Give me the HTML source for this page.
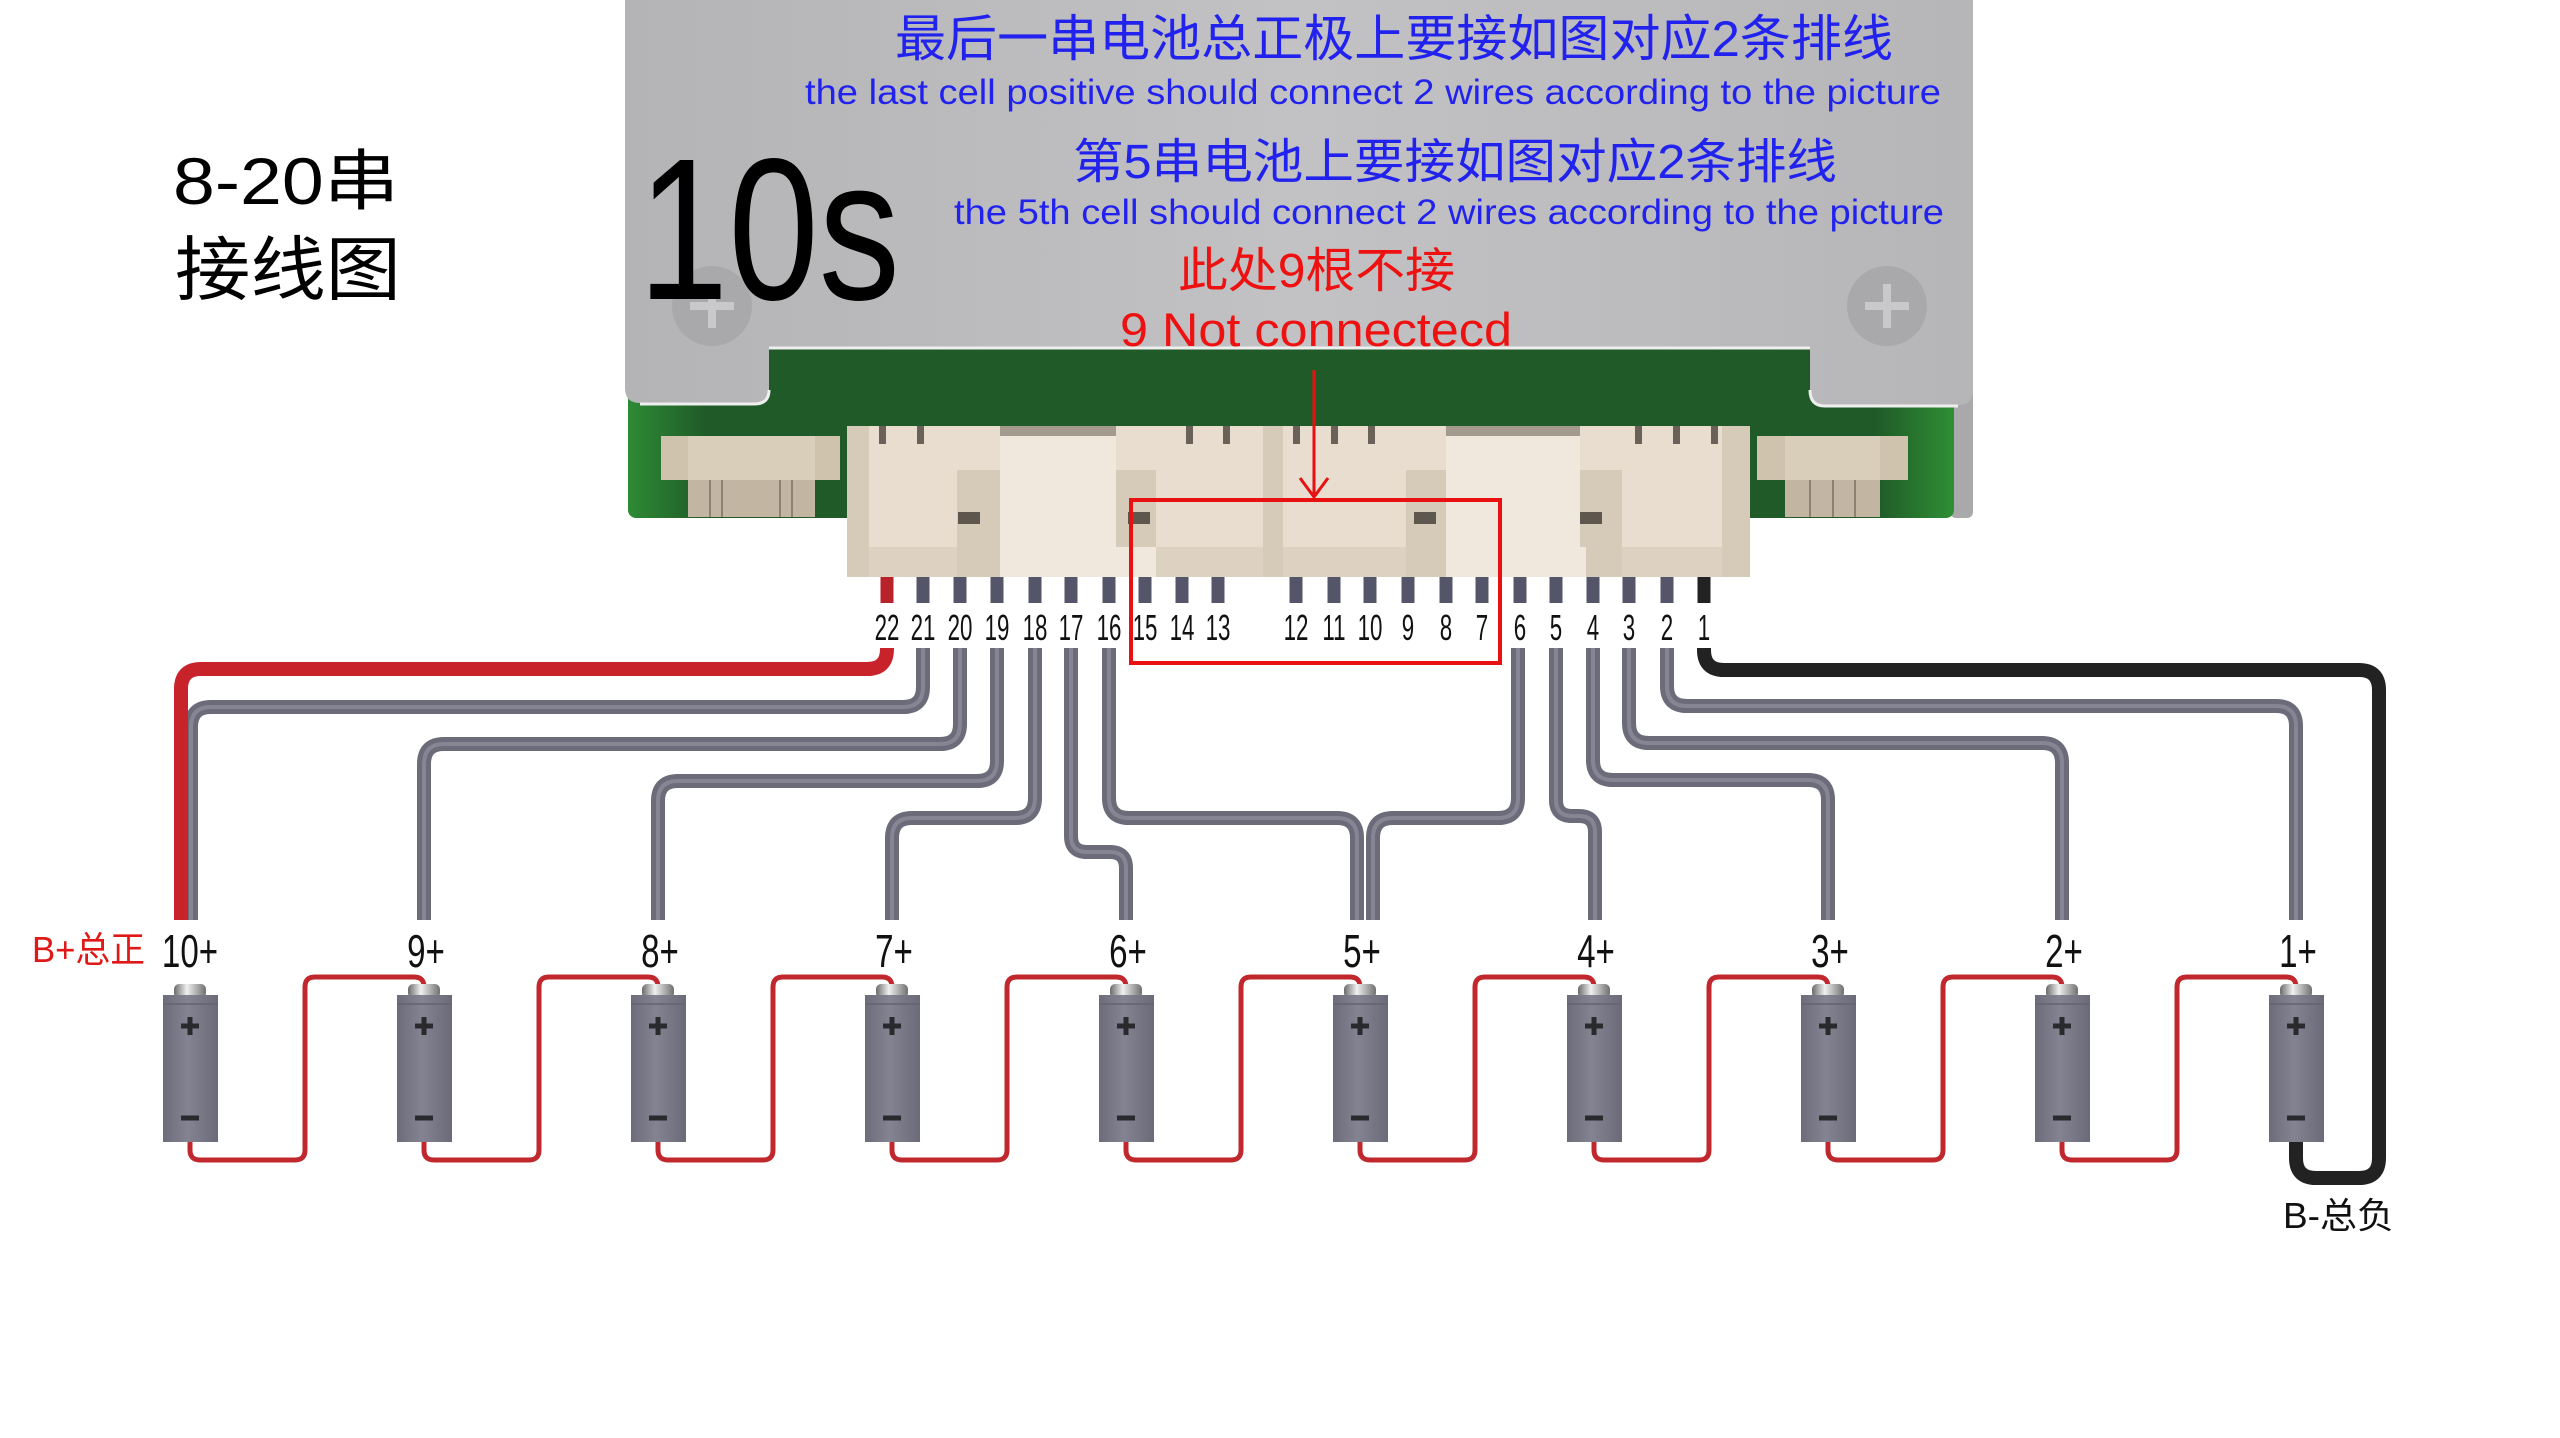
<!DOCTYPE html>
<html><head><meta charset="utf-8">
<style>
html,body{margin:0;padding:0;background:#fff;}
svg{display:block;}
</style></head>
<body>
<svg width="2560" height="1438" viewBox="0 0 2560 1438" xmlns="http://www.w3.org/2000/svg">
<defs>
<linearGradient id="plate" x1="0" y1="0" x2="1" y2="0">
<stop offset="0" stop-color="#b4b4b6"/><stop offset="0.5" stop-color="#c2c2c4"/><stop offset="1" stop-color="#b6b6b8"/>
</linearGradient>
<linearGradient id="pcb" x1="0" y1="0" x2="1" y2="0">
<stop offset="0" stop-color="#2e8a34"/><stop offset="0.06" stop-color="#1f5a28"/><stop offset="0.94" stop-color="#1f5a28"/><stop offset="1" stop-color="#2f8e34"/>
</linearGradient>
<linearGradient id="bat" x1="0" y1="0" x2="1" y2="0">
<stop offset="0" stop-color="#6c6c7a"/><stop offset="0.45" stop-color="#838392"/><stop offset="1" stop-color="#6a6a78"/>
</linearGradient>
<linearGradient id="cap" x1="0" y1="0" x2="1" y2="0">
<stop offset="0" stop-color="#6a6a6a"/><stop offset="0.4" stop-color="#f0f0f0"/><stop offset="1" stop-color="#707070"/>
</linearGradient>
<g id="b">
<rect x="-16" y="984" width="32" height="14" rx="5" fill="url(#cap)"/>
<rect x="-27" y="995" width="55" height="147" fill="url(#bat)"/>
<path d="M-27 1004 H28" stroke="#64646f" stroke-width="1.5"/>
<path d="M-9 1026 H9 M0 1017 V1035" stroke="#2a2a2e" stroke-width="5"/>
<path d="M-9 1118 H9" stroke="#2a2a2e" stroke-width="5"/>
</g>
</defs>

<!-- PCB & plate -->
<rect x="1950" y="0" width="23" height="518" rx="6" fill="#a9a9ab"/>
<rect x="628" y="330" width="1326" height="188" rx="8" fill="url(#pcb)"/>
<path d="M625 0 H1973 V390 Q1973 405 1958 405 H1825 Q1810 405 1810 390 V348 H769 V390 Q769 403 754 403 H640 Q625 403 625 388 Z" fill="url(#plate)"/>
<path d="M769 348 H1810" stroke="#eeeeee" stroke-width="3"/>
<path d="M640 404 H754 Q769 404 769 390" stroke="#eeeeee" stroke-width="3" fill="none"/>
<path d="M1810 390 Q1810 406 1825 406 H1958" stroke="#eeeeee" stroke-width="3" fill="none"/>
<!-- screws -->
<circle cx="712" cy="306" r="40" fill="#a9a9ab"/>
<path d="M712 284 V328 M690 306 H734" stroke="#c9c9cb" stroke-width="8"/>
<circle cx="1887" cy="306" r="40" fill="#a9a9ab"/>
<path d="M1887 284 V328 M1865 306 H1909" stroke="#c9c9cb" stroke-width="8"/>

<!-- small connectors -->
<g fill="#d9ceba">
<rect x="661" y="436" width="179" height="44" fill="#cfc3ae"/>
<rect x="688" y="436" width="127" height="44"/>
<rect x="688" y="480" width="127" height="37" fill="#c2b6a2"/>
<rect x="1757" y="436" width="151" height="44" fill="#cfc3ae"/>
<rect x="1785" y="436" width="95" height="44"/>
<rect x="1785" y="480" width="95" height="37" fill="#c2b6a2"/>
</g>
<g stroke="#8c8272" stroke-width="2">
<path d="M710 480 V517 M722 480 V517 M780 480 V517 M792 480 V517 M1810 480 V517 M1833 480 V517 M1855 480 V517"/>
</g>

<!-- main connector -->
<rect x="847" y="426" width="903" height="151" fill="#e8ddcf"/>
<rect x="847" y="547" width="903" height="30" fill="#ddd1c1"/>
<g fill="#d6cab9">
<rect x="957" y="470" width="43" height="107"/>
<rect x="1116" y="470" width="40" height="107"/>
<rect x="1263" y="426" width="20" height="151"/>
<rect x="1406" y="470" width="40" height="107"/>
<rect x="1580" y="470" width="42" height="107"/>
<rect x="1722" y="426" width="28" height="151"/>
<rect x="847" y="426" width="22" height="151"/>
</g>
<g fill="#f0e8dc">
<rect x="1000" y="436" width="116" height="111"/>
<rect x="1446" y="436" width="134" height="111"/>
<rect x="1000" y="547" width="156" height="30"/>
<rect x="1446" y="547" width="140" height="30"/>
</g>
<g fill="#5e574d">
<rect x="958" y="512" width="22" height="12"/>
<rect x="1128" y="512" width="22" height="12"/>
<rect x="1414" y="512" width="22" height="12"/>
<rect x="1580" y="512" width="22" height="12"/>
</g>
<g fill="#6a6258">
<rect x="879" y="426" width="7" height="18"/><rect x="917" y="426" width="7" height="18"/>
<rect x="1186" y="426" width="7" height="18"/><rect x="1223" y="426" width="7" height="18"/>
<rect x="1293" y="426" width="7" height="18"/><rect x="1331" y="426" width="7" height="18"/>
<rect x="1368" y="426" width="7" height="18"/>
<rect x="1635" y="426" width="7" height="18"/><rect x="1673" y="426" width="7" height="18"/><rect x="1711" y="426" width="7" height="18"/>
</g>
<g fill="#877d70" opacity="0.7">
<rect x="1000" y="426" width="116" height="10"/><rect x="1446" y="426" width="134" height="10"/>
</g>

<!-- pin stubs -->
<g stroke="#55556a" stroke-width="13">
<path d="M923 577 V603 M960 577 V603 M997 577 V603 M1035 577 V603 M1071 577 V603 M1109 577 V603 M1145 577 V603 M1182 577 V603 M1218 577 V603 M1296 577 V603 M1334 577 V603 M1370 577 V603 M1408 577 V603 M1446 577 V603 M1482 577 V603 M1520 577 V603 M1556 577 V603 M1593 577 V603 M1629 577 V603 M1667 577 V603"/>
</g>
<path d="M887 577 V603" stroke="#b8222a" stroke-width="13"/>
<path d="M1704 577 V603" stroke="#222" stroke-width="13"/>

<!-- pin labels -->
<g font-family="Liberation Sans, sans-serif" font-size="36" fill="#111" text-anchor="middle">
<text transform="translate(887 640) scale(0.62 1)">22</text>
<text transform="translate(923 640) scale(0.62 1)">21</text>
<text transform="translate(960 640) scale(0.62 1)">20</text>
<text transform="translate(997 640) scale(0.62 1)">19</text>
<text transform="translate(1035 640) scale(0.62 1)">18</text>
<text transform="translate(1071 640) scale(0.62 1)">17</text>
<text transform="translate(1109 640) scale(0.62 1)">16</text>
<text transform="translate(1145 640) scale(0.62 1)">15</text>
<text transform="translate(1182 640) scale(0.62 1)">14</text>
<text transform="translate(1218 640) scale(0.62 1)">13</text>
<text transform="translate(1296 640) scale(0.62 1)">12</text>
<text transform="translate(1334 640) scale(0.62 1)">11</text>
<text transform="translate(1370 640) scale(0.62 1)">10</text>
<text transform="translate(1408 640) scale(0.62 1)">9</text>
<text transform="translate(1446 640) scale(0.62 1)">8</text>
<text transform="translate(1482 640) scale(0.62 1)">7</text>
<text transform="translate(1520 640) scale(0.62 1)">6</text>
<text transform="translate(1556 640) scale(0.62 1)">5</text>
<text transform="translate(1593 640) scale(0.62 1)">4</text>
<text transform="translate(1629 640) scale(0.62 1)">3</text>
<text transform="translate(1667 640) scale(0.62 1)">2</text>
<text transform="translate(1704 640) scale(0.62 1)">1</text>
</g>

<!-- wires -->
<g fill="none" stroke-linecap="butt">
<g stroke="#6b6b79" stroke-width="14">
<path d="M923 648 V687 Q923 707 903 707 H211 Q191 707 191 727 V920"/>
<path d="M960 648 V724 Q960 744 940 744 H444 Q424 744 424 764 V920"/>
<path d="M997 648 V761 Q997 781 977 781 H678 Q658 781 658 801 V920"/>
<path d="M1035 648 V798 Q1035 818 1015 818 H912 Q892 818 892 838 V920"/>
<path d="M1071 648 V836 Q1071 852 1087 852 H1110 Q1126 852 1126 868 V920"/>
<path d="M1109 648 V798 Q1109 818 1129 818 H1337 Q1357 818 1357 838 V920"/>
<path d="M1518 648 V798 Q1518 818 1498 818 H1393 Q1373 818 1373 838 V920"/>
<path d="M1556 648 V800 Q1556 816 1572 816 H1579 Q1595 816 1595 832 V920"/>
<path d="M1593 648 V760 Q1593 780 1613 780 H1808 Q1828 780 1828 800 V920"/>
<path d="M1629 648 V723 Q1629 743 1649 743 H2042 Q2062 743 2062 763 V920"/>
<path d="M1667 648 V686 Q1667 706 1687 706 H2276 Q2296 706 2296 726 V920"/>
</g>
<g stroke="#8c8c9a" stroke-width="4" opacity="0.8">
<path d="M923 648 V687 Q923 707 903 707 H211 Q191 707 191 727 V920"/>
<path d="M960 648 V724 Q960 744 940 744 H444 Q424 744 424 764 V920"/>
<path d="M997 648 V761 Q997 781 977 781 H678 Q658 781 658 801 V920"/>
<path d="M1035 648 V798 Q1035 818 1015 818 H912 Q892 818 892 838 V920"/>
<path d="M1071 648 V836 Q1071 852 1087 852 H1110 Q1126 852 1126 868 V920"/>
<path d="M1109 648 V798 Q1109 818 1129 818 H1337 Q1357 818 1357 838 V920"/>
<path d="M1518 648 V798 Q1518 818 1498 818 H1393 Q1373 818 1373 838 V920"/>
<path d="M1556 648 V800 Q1556 816 1572 816 H1579 Q1595 816 1595 832 V920"/>
<path d="M1593 648 V760 Q1593 780 1613 780 H1808 Q1828 780 1828 800 V920"/>
<path d="M1629 648 V723 Q1629 743 1649 743 H2042 Q2062 743 2062 763 V920"/>
<path d="M1667 648 V686 Q1667 706 1687 706 H2276 Q2296 706 2296 726 V920"/>
</g>
<path d="M887 648 V649 Q887 669 867 669 H201 Q181 669 181 689 V920" stroke="#c8222a" stroke-width="14"/>
<path d="M1704 648 V650 Q1704 670 1724 670 H2359 Q2379 670 2379 690 V1158 Q2379 1178 2359 1178 H2316 Q2296 1178 2296 1158 V1142" stroke="#222" stroke-width="14"/>
</g>

<!-- battery jumpers -->
<g fill="none" stroke="#c0282e" stroke-width="5">
<path d="M190 1142 V1150 Q190 1160 200 1160 H295 Q305 1160 305 1150 V987 Q305 977 315 977 H414 Q424 977 424 987 V992"/>
<path d="M424 1142 V1150 Q424 1160 434 1160 H529 Q539 1160 539 1150 V987 Q539 977 549 977 H648 Q658 977 658 987 V992"/>
<path d="M658 1142 V1150 Q658 1160 668 1160 H763 Q773 1160 773 1150 V987 Q773 977 783 977 H882 Q892 977 892 987 V992"/>
<path d="M892 1142 V1150 Q892 1160 902 1160 H997 Q1007 1160 1007 1150 V987 Q1007 977 1017 977 H1116 Q1126 977 1126 987 V992"/>
<path d="M1126 1142 V1150 Q1126 1160 1136 1160 H1231 Q1241 1160 1241 1150 V987 Q1241 977 1251 977 H1350 Q1360 977 1360 987 V992"/>
<path d="M1360 1142 V1150 Q1360 1160 1370 1160 H1465 Q1475 1160 1475 1150 V987 Q1475 977 1485 977 H1584 Q1594 977 1594 987 V992"/>
<path d="M1594 1142 V1150 Q1594 1160 1604 1160 H1699 Q1709 1160 1709 1150 V987 Q1709 977 1719 977 H1818 Q1828 977 1828 987 V992"/>
<path d="M1828 1142 V1150 Q1828 1160 1838 1160 H1933 Q1943 1160 1943 1150 V987 Q1943 977 1953 977 H2052 Q2062 977 2062 987 V992"/>
<path d="M2062 1142 V1150 Q2062 1160 2072 1160 H2167 Q2177 1160 2177 1150 V987 Q2177 977 2187 977 H2286 Q2296 977 2296 987 V992"/>
</g>

<!-- batteries -->
<use href="#b" x="190"/><use href="#b" x="424"/><use href="#b" x="658"/><use href="#b" x="892"/><use href="#b" x="1126"/>
<use href="#b" x="1360"/><use href="#b" x="1594"/><use href="#b" x="1828"/><use href="#b" x="2062"/><use href="#b" x="2296"/>

<!-- battery labels -->
<g font-family="Liberation Sans, sans-serif" font-size="46" fill="#111" text-anchor="middle">
<text transform="translate(190 967) scale(0.72 1)">10+</text>
<text transform="translate(426 967) scale(0.72 1)">9+</text>
<text transform="translate(660 967) scale(0.72 1)">8+</text>
<text transform="translate(894 967) scale(0.72 1)">7+</text>
<text transform="translate(1128 967) scale(0.72 1)">6+</text>
<text transform="translate(1362 967) scale(0.72 1)">5+</text>
<text transform="translate(1596 967) scale(0.72 1)">4+</text>
<text transform="translate(1830 967) scale(0.72 1)">3+</text>
<text transform="translate(2064 967) scale(0.72 1)">2+</text>
<text transform="translate(2298 967) scale(0.72 1)">1+</text>
</g>
<text x="32" y="962" font-family="Liberation Sans, Noto Sans CJK SC, sans-serif" font-size="36" fill="#e01818" textLength="113" lengthAdjust="spacingAndGlyphs">B+总正</text>
<text x="2283" y="1228" font-family="Liberation Sans, Noto Sans CJK SC, sans-serif" font-size="36" fill="#111" textLength="111" lengthAdjust="spacingAndGlyphs">B-总负</text>

<!-- red box and arrow -->
<rect x="1131" y="500" width="369" height="163" fill="none" stroke="#e81010" stroke-width="4"/>
<path d="M1314 370 V494" stroke="#e81010" stroke-width="3"/>
<path d="M1300 478 L1314 497 L1328 478" stroke="#e81010" stroke-width="3" fill="none"/>

<!-- top texts -->
<g font-family="Liberation Sans, Noto Sans CJK SC, sans-serif">
<text x="895" y="56" font-size="50" fill="#2222ee" textLength="998" lengthAdjust="spacingAndGlyphs">最后一串电池总正极上要接如图对应2条排线</text>
<text x="805" y="104" font-size="35" fill="#2222ee" textLength="1136" lengthAdjust="spacingAndGlyphs">the last cell positive should connect 2 wires according to the picture</text>
<text x="1073" y="178" font-size="48" fill="#2222ee" textLength="764" lengthAdjust="spacingAndGlyphs">第5串电池上要接如图对应2条排线</text>
<text x="954" y="224" font-size="35" fill="#2222ee" textLength="990" lengthAdjust="spacingAndGlyphs">the 5th cell should connect 2 wires according to the picture</text>
<text x="1178" y="287" font-size="48" fill="#ee1111" textLength="277" lengthAdjust="spacingAndGlyphs">此处9根不接</text>
<text x="1120" y="346" font-size="47" fill="#ee1111" textLength="392" lengthAdjust="spacingAndGlyphs">9 Not connectecd</text>
<text x="638" y="299" font-size="202" fill="#000" textLength="262" lengthAdjust="spacingAndGlyphs">10s</text>
<text x="173" y="204" font-size="66" fill="#000" textLength="226" lengthAdjust="spacingAndGlyphs">8-20串</text>
<text x="175" y="294" font-size="70" fill="#000" textLength="226" lengthAdjust="spacingAndGlyphs">接线图</text>
</g>
</svg>
</body></html>
